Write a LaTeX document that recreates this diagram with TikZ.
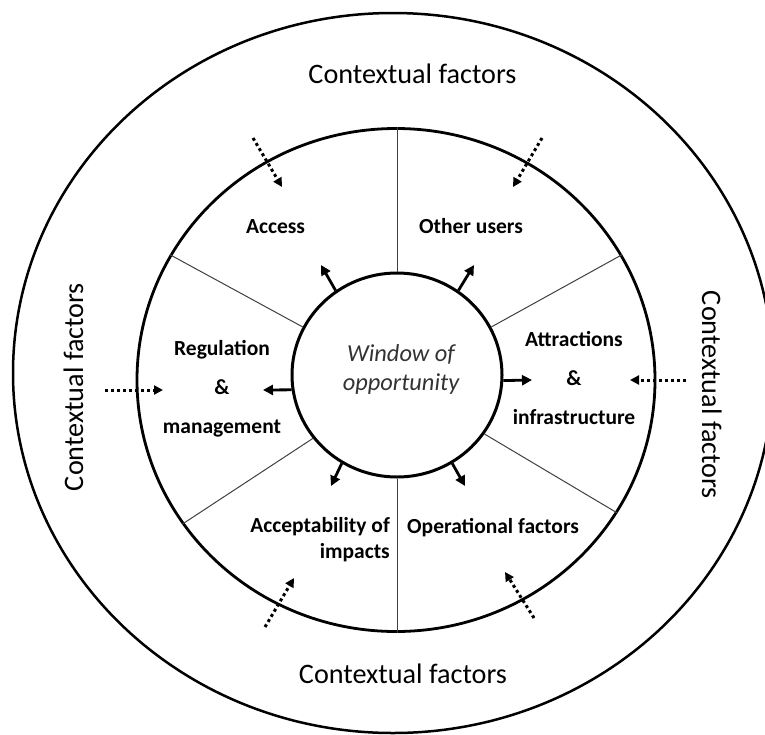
\documentclass[tikz,border=0pt]{standalone}
\usepackage{fontspec}
\setmainfont{Carlito}
\usetikzlibrary{shapes.geometric,arrows.meta}
\begin{document}
\begin{tikzpicture}[x=1pt,y=-1pt,
  ring/.style={draw, ellipse, inner sep=0pt},
  spoke/.style={draw=black!75, line width=1pt},
  push/.style={line width=2.8pt, -{Triangle[length=10pt,width=10pt]}},
  pull/.style={line width=3pt, dash pattern=on 3pt off 3pt, -{Triangle[length=9pt,width=9pt]}},
  factor/.style={font=\fontsize{21.5}{39}\selectfont\bfseries, inner sep=0pt, align=center},
  context/.style={font=\fontsize{28.2}{33}\selectfont, inner sep=0pt, anchor=base}
]
\useasboundingbox (0,0) rectangle (765,734);

% the three rings
\node[ring, line width=2.5pt, minimum width=760pt, minimum height=720pt] (outer) at (393,373) {};
\node[ring, line width=2.8pt, minimum width=518pt, minimum height=503pt] (middle) at (396,380) {};
\node[ring, line width=3pt, minimum width=210pt, minimum height=204pt] (inner) at (397,375) {};

% spokes dividing the middle ring into six sectors
\draw[spoke] (inner.north) -- (inner.north |- middle.north);
\draw[spoke] (inner.south) -- (inner.south |- middle.south);
\draw[spoke] (inner.153) -- (middle.151);
\draw[spoke] (inner.27) -- (middle.29);
\draw[spoke] (inner.217) -- (middle.214);
\draw[spoke] (inner.-34) -- (middle.-31);

% sector labels (multi-line nodes are placed by their last baseline)
\node[factor, anchor=base] (access) at (275.5,233) {Access};
\node[factor, anchor=base] (others) at (471,233) {Other users};
\node[factor, anchor=base] (regulation) at (222,433) {Regulation\\\&\\management};
\node[factor, anchor=base] (attractions) at (574,424) {Attractions\\\&\\infrastructure};
\node[factor, font=\fontsize{21.5}{25.5}\selectfont\bfseries, align=right, anchor=base east] (acceptability) at (390,558) {Acceptability of\\impacts};
\node[factor, anchor=base west] (operational) at (407,533) {Operational factors};

% centre
\node[font=\fontsize{24.4}{28.5}\selectfont\itshape, text=black!80, align=center, inner sep=0pt, anchor=base] (window) at (401,390) {Window of\\opportunity};

% outer labels
\node[context] (ctxtop) at (412.5,83) {Contextual factors};
\node[context] (ctxbottom) at (403,683) {Contextual factors};
\node[context, rotate=90] (ctxleft) at (83,387) {Contextual factors};
\node[context, rotate=-90] (ctxright) at (702,395) {Contextual factors};

% arrows from the window into the sectors
\coordinate (tAccess) at (321,265);
\coordinate (tOther) at (474,265);
\coordinate (tAccept) at (331,486);
\coordinate (tOper) at (465,486);
\coordinate (tReg) at (263,390);
\coordinate (tAttr) at (532,380);
\draw[push] (inner.126) -- (tAccess);
\draw[push] (inner.54) -- (tOther);
\draw[push] (inner.238) -- (tAccept);
\draw[push] (inner.302) -- (tOper);
\draw[push] (inner.188) -- (tReg);
\draw[push] (inner.357) -- (tAttr);

% contextual influences entering the sectors
\coordinate (sTL) at (253,138); \coordinate (eTL) at (282,187);
\coordinate (sTR) at (542,138); \coordinate (eTR) at (513,187);
\coordinate (sL) at (105,390);  \coordinate (eL) at (163,390);
\coordinate (sR) at (686,380);  \coordinate (eR) at (630,380);
\coordinate (sBL) at (265,627); \coordinate (eBL) at (294,578);
\coordinate (sBR) at (534,618); \coordinate (eBR) at (505,572);
\draw[pull] (sTL) -- (eTL);
\draw[pull] (sTR) -- (eTR);
\draw[pull] (sL) -- (eL);
\draw[pull] (sR) -- (eR);
\draw[pull] (sBL) -- (eBL);
\draw[pull] (sBR) -- (eBR);
\end{tikzpicture}
\end{document}
